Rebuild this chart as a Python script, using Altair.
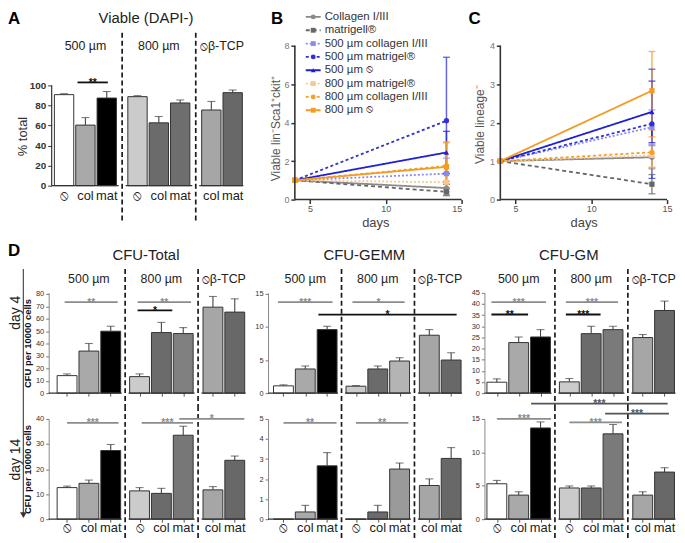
import altair as alt
import pandas as pd

FONT = "Liberation Sans"
NO = "\u29b8"

# ---------------- data ----------------
groups = ["500 µm", "800 µm", NO + "β-TCP"]
group_cats = [[NO, "col", "mat"], [NO, "col", "mat"], ["col", "mat"]]

viable_pct = [90.8, 60.4, 87.4, 88.8, 62.7, 82.5, 75.5, 92.8]
viable_err = [1.0, 7.5, 6.5, 1.0, 6.3, 3.0, 8.5, 2.6]

cfu_total_d4 = [14.1, 33.9, 49.9, 13.3, 48.8, 48.0, 69.3, 65.3]
cfu_total_d4_err = [1.4, 6.1, 4.0, 2.2, 8.2, 4.8, 8.6, 10.7]
cfu_gemm_d4 = [1.1, 3.65, 9.6, 1.05, 3.65, 4.85, 8.75, 5.0]
cfu_gemm_d4_err = [0.15, 0.45, 0.5, 0.1, 0.45, 0.5, 0.85, 1.1]
cfu_gm_d4 = [4.9, 22.7, 25.2, 5.05, 26.7, 28.5, 24.95, 37.1]
cfu_gm_d4_err = [1.5, 2.5, 3.3, 1.5, 3.3, 1.5, 1.35, 4.2]

cfu_total_d14 = [12.6, 14.3, 27.4, 11.3, 10.3, 33.5, 11.7, 23.5]
cfu_total_d14_err = [0.6, 1.3, 2.4, 1.3, 2.0, 3.6, 1.3, 1.7]
cfu_gemm_d14 = [0.0, 0.36, 2.66, 0.0, 0.36, 2.5, 1.68, 3.03]
cfu_gemm_d14_err = [0.0, 0.33, 0.66, 0.0, 0.33, 0.3, 0.33, 0.54]
cfu_gm_d14 = [5.3, 3.6, 13.65, 4.67, 4.67, 12.77, 3.6, 7.05]
cfu_gm_d14_err = [0.5, 0.5, 0.9, 0.3, 0.3, 1.4, 0.5, 0.65]

# significance brackets: (bar i, bar j, y, label, colour key, extend left, extend right)
sig_viable = [(1, 2, 103.0, "**", "k", 0.37, 0.05)]
sig_total_d4 = [(0, 2, 73.3, "**", "g", 0.11, 0.32), (3, 5, 73.3, "**", "g", 0.09, 0.36),
                (3, 4, 66.7, "*", "k", 0.09, 0.5)]
sig_gemm_d4 = [(0, 2, 13.75, "***", "g", 0.25, 0.25), (3, 5, 13.75, "*", "g", 0.16, 0.23),
               (2, 7, 11.85, "*", "k", 0.4, 0.25)]
sig_gm_d4 = [(0, 2, 40.8, "***", "g", 0.25, 0.25), (0, 1, 35.3, "**", "k", 0.25, 0.43),
             (3, 5, 40.8, "***", "g", 0.16, 0.23), (3, 4, 35.3, "***", "k", 0.16, 0.43)]
sig_total_d14 = [(0, 2, 38.4, "***", "g", 0.0, 0.36), (3, 5, 38.4, "***", "g", -0.1, 0.45),
                 (5, 7, 40.0, "*", "g", 0.18, 0.44)]
sig_gemm_d14 = [(0, 2, 4.8, "**", "g", 0.0, 0.43), (3, 5, 4.8, "**", "g", 0.0, 0.4)]
sig_gm_d14 = [(0, 2, 15.0, "***", "g", 0.0, 0.48), (3, 5, 14.5, "***", "g", 0.0, 0.41),
              (2, 7, 17.3, "***", "d", 0.43, 0.14), (5, 7, 15.8, "***", "d", 0.36, 0.2)]

series = ["Collagen I/III", "matrigell®", "500 µm collagen I/III", "500 µm matrigel®",
          "500 µm " + NO, "800 µm matrigel®", "800 µm collagen I/III", "800 µm " + NO]
days = [4, 14]
lsk_day4 = [1.0, 1.0, 1.0, 1.0, 1.0, 1.0, 1.0, 1.0]
lsk_day14 = [0.6, 0.4, 1.35, 4.1, 2.45, 0.9, 1.75, 1.7]
lsk_day14_err = [0.35, 0.2, 0.8, 3.3, 1.1, 0.5, 1.2, 1.3]
lin_day4 = [1.0, 1.0, 1.0, 1.0, 1.0, 1.0, 1.0, 1.0]
lin_day14 = [1.1, 0.4, 1.88, 1.97, 2.28, 1.15, 1.23, 2.83]
lin_day14_err = [0.3, 0.25, 0.45, 1.42, 0.8, 0.3, 0.4, 1.02]

# ---------------- styles ----------------
SIG_COL = {"g": "#8c8c8c", "k": "#111111", "d": "#555555"}
base_fills = ["#ffffff", "#a9a9a9", "#000000", "#cbcbcb", "#6b6b6b", "#7a7a7a", "#a6a6a6", "#686868"]
series_colors = ["#8a8a8a", "#666666", "#8a8af2", "#3030d8", "#1f1fd4", "#f8c890", "#f5a028", "#f49c22"]
series_dashes = [[1, 0], [4, 3], [2, 2], [3, 2.5], [1, 0], [2, 2], [3, 2.5], [1, 0]]
series_shapes = ["circle", "square", "square", "circle", "triangle-up", "square", "circle", "square"]


def inv(p, v0, p0, v1, p1):
    return v0 + (p - p0) * (v1 - v0) / (p1 - p0)


def ptext(txt, px, py, ox, oy, **kw):
    return alt.Chart(pd.DataFrame({"t": [txt]})).mark_text(font=FONT, **kw).encode(
        text="t:N", x=alt.value(px - ox), y=alt.value(py - oy))


def prule(px, py1, py2, ox, oy, **kw):
    return alt.Chart(pd.DataFrame({"t": [0]})).mark_rule(**kw).encode(
        x=alt.value(px - ox), y=alt.value(py1 - oy), y2=alt.value(py2 - oy))


def bar_panel(vals, errs, sigs, fills, ox, oy, w, h, c0, unit, offs, yref, yticks, yaxis_kw,
              sep_px, axis_px=None, header_py=None, label_py=None, xticks=True, extra=()):
    half = 0.5 - 1.0 / unit
    xv = lambda px: (px - c0) / unit
    yv = lambda py: inv(py, *yref)
    xs = alt.Scale(domain=[xv(ox), xv(ox + w)], nice=False, zero=False)
    ys = alt.Scale(domain=[yv(oy + h), yv(oy)], nice=False, zero=False)
    rows, pos, firsts, lasts, k = [], [], [], [], 0
    for g, cats in enumerate(group_cats):
        for i, c in enumerate(cats):
            p = offs[g] + i
            pos.append(p)
            rows.append(dict(cat=c, pos=p, left=p - half, right=p + half, value=vals[k],
                             err=errs[k], top=vals[k] + errs[k], fill=fills[k], zero=0.0))
            k += 1
        firsts.append(offs[g])
        lasts.append(offs[g] + len(cats) - 1)
    ax_px = axis_px if axis_px is not None else ox
    yax = alt.Axis(values=yticks, offset=-(ax_px - ox), **yaxis_kw)
    xax = (alt.Axis(values=pos, labels=False, domain=False, ticks=True, tickSize=3,
                    tickColor="#555", title=None) if xticks else None)
    X = lambda f: alt.X(f, scale=xs, axis=xax)
    Y = lambda f: alt.Y(f, scale=ys, axis=yax)
    df = pd.DataFrame(rows)
    seps = [(lasts[g] + firsts[g + 1]) / 2 for g in range(len(group_cats) - 1)]
    gap = 3.5 / unit
    axis_x = xv(ax_px)
    segdf = pd.DataFrame({"a": [axis_x] + [s + gap for s in seps],
                          "b": [s - gap for s in seps] + [lasts[-1] + half + 1.0 / unit],
                          "zero": 0.0})
    layers = [
        alt.Chart(df).mark_bar(stroke="#333", strokeWidth=1).encode(
            x=X("left:Q"), x2="right:Q", y=Y("value:Q"), y2="zero:Q",
            fill=alt.Fill("fill:N", scale=None)),
    ]
    edf = df[df.err > 0]
    layers.append(alt.Chart(edf).mark_rule(color="#444", strokeWidth=1.1).encode(
        x=X("pos:Q"), y=Y("value:Q"), y2="top:Q"))
    layers.append(alt.Chart(edf).mark_tick(orient="horizontal", color="#444", thickness=1.1,
                                           size=8).encode(x=X("pos:Q"), y=Y("top:Q")))
    layers.append(alt.Chart(segdf).mark_rule(color="#333", strokeWidth=1.3).encode(
        x=X("a:Q"), x2="b:Q", y=Y("zero:Q")))
    if not yaxis_kw.get("domain", True):
        ldf = pd.DataFrame({"x": [axis_x], "lo": [0.0], "hi": [float(yticks[-1])]})
        layers.append(alt.Chart(ldf).mark_rule(color="#333", strokeWidth=1.2).encode(
            x=X("x:Q"), y=Y("lo:Q"), y2="hi:Q"))
    layers.append(alt.Chart(pd.DataFrame({"s": seps})).mark_rule(
        color="#1a1a1a", strokeWidth=1.7, strokeDash=[5, 3]).encode(
        x=X("s:Q"), y=alt.value(sep_px[0] - oy), y2=alt.value(sep_px[1] - oy)))
    sig_rows = []
    for (i, j, yy, lab, ck, el, er) in sigs:
        a, b = pos[i] - el, pos[j] + er
        sig_rows.append(dict(a=a, b=b, mid=(a + b) / 2, y=yy, label=lab, color=SIG_COL[ck]))
    sdf = pd.DataFrame(sig_rows)
    layers.append(alt.Chart(sdf).mark_rule(strokeWidth=1.8).encode(
        x=X("a:Q"), x2="b:Q", y=Y("y:Q"), color=alt.Color("color:N", scale=None)))
    layers.append(alt.Chart(sdf).mark_text(font=FONT, fontSize=10.5, fontWeight="bold",
                                           baseline="alphabetic", dy=3.5).encode(
        x=X("mid:Q"), y=Y("y:Q"), text="label:N", color=alt.Color("color:N", scale=None)))
    if header_py is not None:
        hdf = pd.DataFrame({"g": groups,
                            "c": [offs[g] + (len(c) - 1) / 2 for g, c in enumerate(group_cats)]})
        layers.append(alt.Chart(hdf).mark_text(font=FONT, fontSize=12.5, color="#222").encode(
            x=X("c:Q"), y=alt.value(header_py - oy), text="g:N"))
    if label_py is not None:
        layers.append(alt.Chart(df).mark_text(font=FONT, fontSize=13, color="#222").encode(
            x=X("pos:Q"), y=alt.value(label_py - oy), text="cat:N"))
    layers += list(extra)
    return alt.layer(*layers).properties(width=w, height=h)


def line_panel(d4, d14, e14, ox, oy, w, h, xref, yref, yticks, ytitle, ytitle_xy, xtitle_xy,
               legend=False, extra=()):
    xv = lambda px: inv(px, *xref)
    yv = lambda py: inv(py, *yref)
    xs = alt.Scale(domain=[xv(ox), xv(ox + w)], nice=False, zero=False)
    ys = alt.Scale(domain=[yv(oy + h), yv(oy)], nice=False, zero=False)
    ax_x_px, ax_y_px = xref[1], yref[1]
    xax = alt.Axis(values=[5, 10, 15], domain=False, offset=-(oy + h - ax_y_px), title="days",
                   titleX=xtitle_xy[0] - ox, titleY=xtitle_xy[1] - ax_y_px, titleAlign="center",
                   titleBaseline="middle", titleFontSize=13, titleColor="#444",
                   titleFontWeight="normal", labelFontSize=9, labelColor="#555",
                   tickSize=4, tickWidth=1.5, tickColor="#333", labelPadding=1)
    yax = alt.Axis(values=yticks, domain=False, offset=-(ax_x_px - ox), title=ytitle,
                   titleX=ytitle_xy[0] - ax_x_px, titleY=ytitle_xy[1] - oy, titleAngle=270,
                   titleAlign="center", titleBaseline="middle", titleFontSize=12,
                   titleColor="#555", titleFontWeight="normal", labelFontSize=9,
                   labelColor="#777", tickSize=4, tickWidth=1.5, tickColor="#333", labelPadding=2)
    X = lambda f: alt.X(f, scale=xs, axis=xax)
    Y = lambda f: alt.Y(f, scale=ys, axis=yax)
    rows = []
    for i, s in enumerate(series):
        rows.append(dict(series=s, day=days[0], value=d4[i]))
        rows.append(dict(series=s, day=days[1], value=d14[i]))
    df = pd.DataFrame(rows)
    edf = pd.DataFrame(dict(series=series, day=days[1],
                            lo=[max(0.0, v - e) for v, e in zip(d14, e14)],
                            hi=[v + e for v, e in zip(d14, e14)]))
    color = alt.Color("series:N", scale=alt.Scale(domain=series, range=series_colors), legend=None)
    dash = alt.StrokeDash("series:N", scale=alt.Scale(domain=series, range=series_dashes), legend=None)
    shape = alt.Shape("series:N", scale=alt.Scale(domain=series, range=series_shapes), legend=None)
    layers = [
        alt.Chart(df).mark_line(strokeWidth=1.8).encode(
            x=X("day:Q"), y=Y("value:Q"), color=color, strokeDash=dash),
        alt.Chart(edf).mark_rule(strokeWidth=1.5, opacity=0.75).encode(
            x=X("day:Q"), y=Y("lo:Q"), y2="hi:Q", color=color),
        alt.Chart(edf).mark_tick(orient="horizontal", thickness=1.3, size=7, opacity=0.75).encode(
            x=X("day:Q"), y=Y("hi:Q"), color=color),
        alt.Chart(edf).mark_tick(orient="horizontal", thickness=1.3, size=7, opacity=0.75).encode(
            x=X("day:Q"), y=Y("lo:Q"), color=color),
        alt.Chart(df).mark_point(filled=True, size=28, opacity=1).encode(
            x=X("day:Q"), y=Y("value:Q"), color=color, shape=shape),
        alt.Chart(pd.DataFrame({"a": [xref[0]], "b": [xref[2]], "y": [yref[0]]})).mark_rule(
            color="#333", strokeWidth=1.6).encode(x=X("a:Q"), x2="b:Q", y=Y("y:Q")),
        alt.Chart(pd.DataFrame({"x": [xref[0]], "lo": [yref[0]], "hi": [float(yticks[-1])]})).mark_rule(
            color="#333", strokeWidth=1.6).encode(x=X("x:Q"), y=Y("lo:Q"), y2="hi:Q"),
    ]
    if legend:
        top_py, pitch = 14.0, 13.43
        ldf = pd.DataFrame(dict(series=series,
                                y=[yv(top_py + i * pitch) for i in range(len(series))],
                                x1=xv(308), x2=xv(323), xm=xv(315.5), xt=xv(327)))
        layers += [
            alt.Chart(ldf).mark_rule(strokeWidth=1.8).encode(
                x=X("x1:Q"), x2="x2:Q", y=Y("y:Q"), color=color, strokeDash=dash),
            alt.Chart(ldf).mark_point(filled=True, size=24, opacity=1).encode(
                x=X("xm:Q"), y=Y("y:Q"), color=color, shape=shape),
            alt.Chart(ldf).mark_text(font=FONT, fontSize=11.5, align="left", baseline="middle",
                                     color="#333").encode(x=X("xt:Q"), y=Y("y:Q"), text="series:N"),
        ]
    layers += list(extra)
    return alt.layer(*layers).properties(width=w, height=h)


def fills_with(c5):
    f = list(base_fills)
    f[5] = c5
    return f


D_AXIS = dict(domain=True, domainColor="#888", tickSize=3, tickColor="#777", labelFontSize=7.5,
              labelColor="#333", labelPadding=2)
D_TITLE = dict(title="CFU per 10000 cells", titleX=-21, titleY=50.5, titleAngle=270,
               titleAlign="center", titleBaseline="middle", titleFontWeight="bold",
               titleFontSize=9.5, titleColor="#111")
D_OFFS = [0.0, 3.32, 6.68]

# ---------------- panel A ----------------
oxA, oyA = 49, 43
panelA = bar_panel(
    viable_pct, viable_err, sig_viable, fills_with("#6e6e6e"), oxA, oyA, 199, 223, 64.5, 21.5,
    [0.0, 3.44, 6.9], (0, 184, 100, 83), [0, 20, 40, 60, 80, 100],
    dict(domain=False, tickSize=4, tickColor="#333", labelFontSize=10, labelFontWeight="bold",
         labelColor="#333", labelPadding=2, title="% total", titleX=-29, titleY=91,
         titleAngle=270, titleAlign="center", titleBaseline="middle", titleFontSize=13,
         titleFontWeight="normal", titleColor="#333"),
    (30, 222), axis_px=52, header_py=43, label_py=194, xticks=False,
    extra=[
        ptext("A", 8, 8, oxA, oyA, fontSize=17, fontWeight="bold", align="left", baseline="top",
              color="#000"),
        ptext("Viable (DAPI-)", 147, 15.5, oxA, oyA, fontSize=15, color="#222", baseline="middle"),
        alt.Chart(pd.DataFrame({"t": [0]})).mark_rule(strokeOpacity=0, strokeWidth=0.1).encode(
            x=alt.value(8 - oxA), x2=alt.value(8.5 - oxA), y=alt.value(8 - oyA),
            y2=alt.value(8.5 - oyA)),
    ])

# ---------------- panels B, C ----------------
panelB = line_panel(lsk_day4, lsk_day14, lsk_day14_err, 270, 43, 196, 223,
                    (4, 297, 15, 465), (0, 198, 8, 43), [0, 2, 4, 6, 8],
                    "Viable lin⁻Sca1⁺ckit⁺", (278, 126), (378, 221), legend=True,
                    extra=[ptext("B", 273, 8, 270, 43, fontSize=17, fontWeight="bold",
                                 align="left", baseline="top", color="#000")])
panelC = line_panel(lin_day4, lin_day14, lin_day14_err, 488, 43, 194, 223,
                    (4, 504, 15, 672), (0, 198, 4, 43), [0, 1, 2, 3, 4],
                    "Viable lineage⁻", (483, 122), (588, 221),
                    extra=[ptext("C", 472, 8, 488, 43, fontSize=17, fontWeight="bold",
                                 align="left", baseline="top", color="#000")])

# ---------------- panel D, day 4 ----------------
T4 = bar_panel(cfu_total_d4, cfu_total_d4_err, sig_total_d4, fills_with("#808080"),
               49, 292, 199, 101, 67.5, 22, D_OFFS, (0, 393, 80, 293),
               [0, 10, 20, 30, 40, 50, 60, 70, 80], {**D_AXIS, **D_TITLE}, (268, 406),
               header_py=278,
               extra=[ptext("D", 8, 242, 49, 292, fontSize=17, fontWeight="bold", align="left",
                            baseline="top", color="#000"),
                      ptext("CFU-Total", 147, 254, 49, 292, fontSize=15, color="#222",
                            baseline="middle"),
                      ptext("day 4", 16.5, 312, 49, 292, fontSize=14, angle=270, color="#222",
                            baseline="middle"),
                      prule(23.5, 268, 406, 49, 292, color="#555", strokeWidth=1.3)])
G4 = bar_panel(cfu_gemm_d4, cfu_gemm_d4_err, sig_gemm_d4, fills_with("#b4b4b4"),
               270, 292, 196, 101, 285.5, 22, D_OFFS, (0, 393, 15, 293),
               [0, 5, 10, 15], {**D_AXIS, "title": None}, (268, 406), header_py=278,
               extra=[ptext("CFU-GEMM", 367, 254, 270, 292, fontSize=15, color="#222",
                            baseline="middle")])
M4 = bar_panel(cfu_gm_d4, cfu_gm_d4_err, sig_gm_d4, fills_with("#7a7a7a"),
               488, 292, 194, 101, 500.5, 22, D_OFFS, (0, 393, 45, 292),
               [0, 5, 10, 15, 20, 25, 30, 35, 40, 45], {**D_AXIS, "title": None}, (268, 406),
               header_py=278,
               extra=[ptext("CFU-GM", 573, 254, 488, 292, fontSize=15, color="#222",
                            baseline="middle")])

# ---------------- panel D, day 14 ----------------
T14 = bar_panel(cfu_total_d14, cfu_total_d14_err, sig_total_d14, fills_with("#777777"),
                49, 419, 199, 101, 67.5, 22, D_OFFS, (0, 520, 40, 419),
                [0, 10, 20, 30, 40], {**D_AXIS, **D_TITLE}, (406, 542), label_py=529,
                extra=[ptext("day 14", 16.5, 460, 49, 419, fontSize=14, angle=270, color="#222",
                             baseline="middle"),
                       prule(23.5, 406, 514, 49, 419, color="#555", strokeWidth=1.3),
                       alt.Chart(pd.DataFrame({"t": [0]})).mark_point(
                           shape="triangle-down", filled=True, size=45, color="#333",
                           opacity=1).encode(x=alt.value(23.5 - 49), y=alt.value(516 - 419))])
G14 = bar_panel(cfu_gemm_d14, cfu_gemm_d14_err, sig_gemm_d14, fills_with("#9a9a9a"),
                270, 419, 196, 101, 285.5, 22, D_OFFS, (0, 520, 5, 419),
                [0, 1, 2, 3, 4, 5], {**D_AXIS, "title": None}, (406, 542), label_py=529)
M14 = bar_panel(cfu_gm_d14, cfu_gm_d14_err, sig_gm_d14, fills_with("#7a7a7a"),
                488, 419, 194, 101, 500.5, 22, D_OFFS, (0, 520, 15, 419),
                [0, 5, 10, 15], {**D_AXIS, "title": None}, (406, 542), label_py=529)

chart = alt.concat(
    panelA, panelB, panelC, T4, G4, M4, T14, G14, M14,
    columns=3, spacing={"row": 26, "column": 22}, bounds="flush", align="each", padding=0,
).configure_view(stroke=None).configure_axis(
    grid=False, labelFont=FONT, titleFont=FONT
).configure_text(font=FONT)

chart.save("out.html", embed_options={"renderer": "svg", "actions": False})
